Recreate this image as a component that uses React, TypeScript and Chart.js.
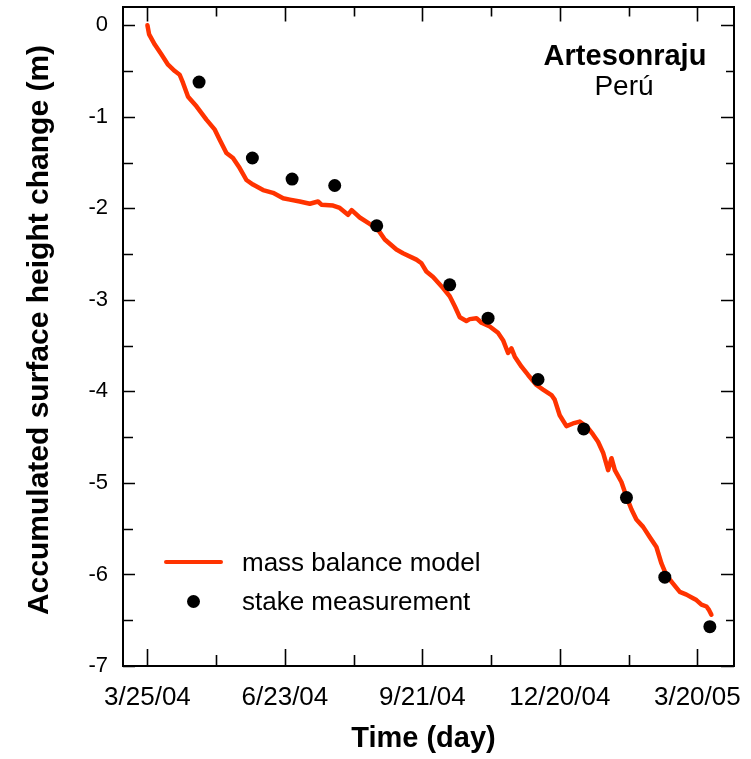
import React, { useEffect, useRef } from 'react';
import { Chart, registerables } from 'chart.js';

Chart.register(...registerables);

const FONT = '"Liberation Sans", Arial, Helvetica, sans-serif';

// x values are days since 3/25/04
const tickDays = [0, 90, 180, 270, 360];
const tickLabels = ['3/25/04', '6/23/04', '9/21/04', '12/20/04', '3/20/05'];
const xTickMarks = [0, 45, 90, 135, 180, 225, 270, 315, 360];
const yTickValues = [0, -1, -2, -3, -4, -5, -6, -7];
const yTickMarks = [0, -0.5, -1, -1.5, -2, -2.5, -3, -3.5, -4, -4.5, -5, -5.5, -6, -6.5, -7];

const stakeDays = [33.8, 68.7, 94.7, 122.6, 150.1, 197.9, 223.0, 255.7, 285.6, 313.6, 338.7, 368.2];
const stakeValues = [-0.62, -1.45, -1.68, -1.75, -2.19, -2.835, -3.2, -3.87, -4.41, -5.16, -6.03, -6.57];

const modelDays = [
  0, 1.1, 4.8, 9.2, 13.5, 17.9, 21.1, 23.3, 26.6, 32.1, 38.6, 44.1, 47.3, 51.7, 56, 60.4, 64.8, 69.1,
  75.7, 82.2, 88.8, 93.2, 99.7, 106.3, 111.7, 113.9, 121.5, 125.9, 131.3, 133.7, 139, 145.5, 150.8,
  155.4, 163, 167.3, 176.1, 179.4, 182.6, 187, 193.5, 197.9, 201.2, 204.5, 208.8, 211, 215.4, 218.7,
  224.1, 229.5, 232.8, 236.1, 238.3, 240.5, 244.9, 249.2, 254.7, 259, 264.5, 266.6, 269.9, 274.3,
  278.6, 283, 288.5, 291.7, 295, 298.3, 301.6, 303.8, 306, 310.3, 313.6, 316.9, 320.1, 324.5, 328.8,
  333.2, 336.5, 339.8, 344.1, 348.5, 352.9, 357.2, 359.4, 362.7, 366, 367.7, 369.2,
];
const modelValues = [
  0, -0.1, -0.21, -0.32, -0.43, -0.5, -0.54, -0.63, -0.78, -0.885, -1.03, -1.14, -1.25, -1.395, -1.45,
  -1.56, -1.69, -1.74, -1.8, -1.83, -1.89, -1.905, -1.925, -1.95, -1.925, -1.96, -1.97, -1.996, -2.07,
  -2.02, -2.1, -2.17, -2.23, -2.34, -2.45, -2.49, -2.56, -2.6, -2.69, -2.75, -2.87, -2.96, -3.07,
  -3.19, -3.23, -3.21, -3.2, -3.25, -3.29, -3.36, -3.44, -3.58, -3.53, -3.62, -3.73, -3.82, -3.93,
  -3.98, -4.04, -4.09, -4.26, -4.38, -4.35, -4.33, -4.4, -4.47, -4.55, -4.67, -4.86, -4.73, -4.86,
  -4.99, -5.15, -5.29, -5.4, -5.48, -5.59, -5.7, -5.88, -6.01, -6.1, -6.19, -6.22, -6.26, -6.28,
  -6.33, -6.35, -6.39, -6.44,
];

const LINE_COLOR = '#ff3300';

const decorPlugin = {
  id: 'decor',
  afterDraw(chart: any) {
    const { ctx, chartArea: a, scales } = chart;
    const xs = scales.x;
    const ys = scales.y;
    ctx.save();
    // tick marks (inward)
    ctx.strokeStyle = '#000';
    ctx.lineWidth = 1.6;
    ctx.beginPath();
    yTickMarks.forEach((v) => {
      const py = Math.round(ys.getPixelForValue(v)) + 0.5;
      const major = Number.isInteger(v);
      ctx.moveTo(a.left, py);
      ctx.lineTo(a.left + (major ? 12 : 10), py);
      ctx.moveTo(a.right, py);
      ctx.lineTo(a.right - (major ? 13 : 8), py);
    });
    xTickMarks.forEach((d) => {
      const px = Math.round(xs.getPixelForValue(d)) + 0.5;
      const major = d % 90 === 0;
      ctx.moveTo(px, a.top);
      ctx.lineTo(px, a.top + (major ? 14.5 : 9.5));
      ctx.moveTo(px, a.bottom);
      ctx.lineTo(px, a.bottom - (major ? 17 : 11));
    });
    ctx.stroke();
    // frame
    ctx.lineWidth = 2;
    ctx.strokeRect(a.left, a.top, a.right - a.left, a.bottom - a.top);

    // axis titles
    ctx.fillStyle = '#000';
    ctx.textAlign = 'center';
    ctx.textBaseline = 'alphabetic';
    ctx.font = `bold 29px ${FONT}`;
    ctx.fillText('Time (day)', 423.5, 746.5);
    ctx.save();
    ctx.translate(48, 330);
    ctx.rotate(-Math.PI / 2);
    ctx.font = `bold 30px ${FONT}`;
    ctx.fillText('Accumulated surface height change (m)', 0, 0);
    ctx.restore();

    // site label
    ctx.font = `bold 29px ${FONT}`;
    ctx.fillText('Artesonraju', 625, 65);
    ctx.font = `28px ${FONT}`;
    ctx.fillText('Perú', 624, 95);

    // legend
    ctx.strokeStyle = LINE_COLOR;
    ctx.lineWidth = 4;
    ctx.lineCap = 'round';
    ctx.beginPath();
    ctx.moveTo(166, 562);
    ctx.lineTo(221, 562);
    ctx.stroke();
    ctx.fillStyle = '#000';
    ctx.beginPath();
    ctx.arc(193.5, 601.5, 6.5, 0, Math.PI * 2);
    ctx.fill();
    ctx.textAlign = 'left';
    ctx.font = `26px ${FONT}`;
    ctx.fillText('mass balance model', 242, 571);
    ctx.fillText('stake measurement', 242, 610);
    ctx.restore();
  },
};

export default function App() {
  const canvasRef = useRef<HTMLCanvasElement | null>(null);

  useEffect(() => {
    const canvas = canvasRef.current;
    if (!canvas) return;
    const chart = new Chart(canvas, {
      type: 'scatter',
      data: {
        datasets: [
          {
            label: 'stake measurement',
            data: stakeDays.map((d, i) => ({ x: d, y: stakeValues[i] })),
            backgroundColor: '#000',
            borderColor: '#000',
            pointRadius: 6.5,
            pointBorderWidth: 0,
            showLine: false,
          },
          {
            label: 'mass balance model',
            data: modelDays.map((d, i) => ({ x: d, y: modelValues[i] })),
            borderColor: LINE_COLOR,
            backgroundColor: LINE_COLOR,
            borderWidth: 4.5,
            borderJoinStyle: 'round',
            borderCapStyle: 'round',
            pointRadius: 0,
            showLine: true,
            tension: 0,
          },
        ],
      },
      options: {
        responsive: false,
        animation: false,
        layout: { padding: { left: 0, top: 7, right: 17, bottom: 0 } },
        plugins: {
          legend: { display: false },
          tooltip: { enabled: false },
          title: { display: false },
        },
        scales: {
          x: {
            type: 'linear',
            min: -16,
            max: 384,
            grid: { display: false, drawTicks: false },
            border: { display: false },
            afterBuildTicks: (scale: any) => {
              scale.ticks = tickDays.map((v) => ({ value: v }));
            },
            afterFit: (scale: any) => {
              scale.height = 93;
              scale.paddingLeft = 0;
              scale.paddingRight = 0;
              scale.paddingTop = 0;
              scale.paddingBottom = 0;
            },
            ticks: {
              autoSkip: false,
              maxRotation: 0,
              padding: 16,
              color: '#000',
              font: { family: FONT, size: 26 },
              callback: (v: any) => {
                const i = tickDays.indexOf(Number(v));
                return i >= 0 ? tickLabels[i] : '';
              },
            },
          },
          y: {
            type: 'linear',
            min: -7,
            max: 0.2,
            grid: { display: false, drawTicks: false },
            border: { display: false },
            afterBuildTicks: (scale: any) => {
              scale.ticks = yTickValues.map((v) => ({ value: v }));
            },
            afterFit: (scale: any) => {
              scale.width = 123;
              scale.paddingLeft = 0;
              scale.paddingRight = 0;
              scale.paddingTop = 0;
              scale.paddingBottom = 0;
            },
            ticks: {
              autoSkip: false,
              padding: 15,
              color: '#000',
              font: { family: FONT, size: 22 },
              callback: (v: any) => String(v),
            },
          },
        },
      },
      plugins: [decorPlugin],
    });
    return () => chart.destroy();
  }, []);

  return (
    <div style={{ position: 'absolute', left: 0, top: 0, width: 751, height: 759, background: '#fff' }}>
      <canvas ref={canvasRef} width={751} height={759} style={{ display: 'block' }} />
    </div>
  );
}
